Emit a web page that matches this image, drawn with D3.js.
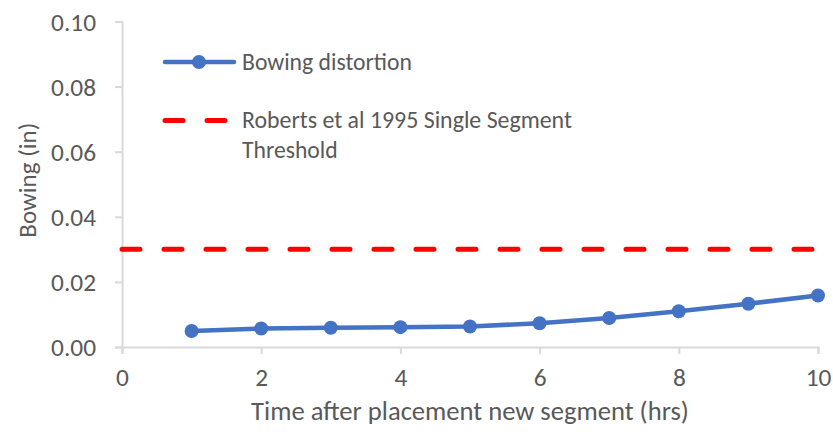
<!DOCTYPE html>
<html>
<head>
<meta charset="utf-8">
<script src="https://cdn.jsdelivr.net/npm/d3@7"></script>
<style>
  html, body { margin: 0; padding: 0; background: #fff; }
  svg { display: block; }
  text { font-family: Carlito, Calibri, Lato, "Open Sans", sans-serif; fill: #595959; }
</style>
</head>
<body>
<svg id="chart" width="833" height="434"></svg>
<script>
// Bowing distortion measured after placing a new segment
const hours = [1, 2, 3, 4, 5, 6, 7, 8, 9, 10];
const bowing = [0.0049, 0.0057, 0.0059, 0.0061, 0.0063, 0.0073, 0.0089, 0.0110, 0.0133, 0.0158];
// Roberts et al (1995) single segment threshold
const threshold = 0.03;
const xTicks = [0, 2, 4, 6, 8, 10];
const yTicks = [0, 0.02, 0.04, 0.06, 0.08, 0.10];
const seriesNames = ["Bowing distortion", "Roberts et al 1995 Single Segment", "Threshold"];

const svg = d3.select("#chart");
const x = d3.scaleLinear().domain([0, 10]).range([122, 818]);
const y = d3.scaleLinear().domain([0, 0.1]).range([347, 21.5]);

const axisColor = "#d9d9d9";

// Scale a text's font size so that it spans the given width
function fitWidth(sel, width, base) {
  sel.style("font-size", base + "px");
  const w = sel.node().getComputedTextLength();
  sel.style("font-size", (base * width / w).toFixed(2) + "px");
  return base * width / w;
}

// Y axis
const yAxis = svg.append("g")
  .attr("transform", `translate(${x(0)},0)`)
  .call(d3.axisLeft(y).tickValues(yTicks).tickFormat(d3.format(".2f")).tickSize(7).tickPadding(19));
// X axis
const xAxis = svg.append("g")
  .attr("transform", `translate(0,${y(0)})`)
  .call(d3.axisBottom(x).tickValues(xTicks).tickFormat(d3.format("d")).tickSize(7).tickPadding(14));

[yAxis, xAxis].forEach(g => {
  g.select(".domain").attr("stroke", axisColor).attr("stroke-width", 2);
  g.selectAll(".tick line").attr("stroke", axisColor).attr("stroke-width", 2);
  g.selectAll(".tick text").attr("fill", "#595959")
    .style("font-family", "Carlito, Calibri, Lato, sans-serif");
});
// Tick labels: "0.10" spans about 45px
const tickSize = fitWidth(yAxis.selectAll(".tick text").filter(d => d === 0.1), 45, 24);
yAxis.selectAll(".tick text").style("font-size", tickSize + "px").attr("dy", "0.35em");
xAxis.selectAll(".tick text").style("font-size", tickSize + "px").attr("dy", "0.72em");

// Threshold line
svg.append("line")
  .attr("x1", x(0)).attr("x2", x(10))
  .attr("y1", y(threshold)).attr("y2", y(threshold))
  .attr("stroke", "#ff0000").attr("stroke-width", 5)
  .attr("stroke-linecap", "round")
  .attr("stroke-dasharray", "18 24");

// Bowing series
const line = d3.line().x((d, i) => x(hours[i])).y(d => y(d));
svg.append("path")
  .datum(bowing)
  .attr("d", line)
  .attr("fill", "none")
  .attr("stroke", "#4472c4")
  .attr("stroke-width", 4.5)
  .attr("stroke-linejoin", "round");
svg.selectAll("circle.pt")
  .data(bowing)
  .enter().append("circle")
  .attr("class", "pt")
  .attr("cx", (d, i) => x(hours[i]))
  .attr("cy", d => y(d))
  .attr("r", 7)
  .attr("fill", "#4472c4");

// Axis titles
const xTitle = svg.append("text")
  .attr("x", (x(0) + x(10)) / 2).attr("y", 420)
  .attr("text-anchor", "middle")
  .text("Time after placement new segment (hrs)");
fitWidth(xTitle, 438, 22);
const yTitle = svg.append("text")
  .attr("transform", `translate(36,${(y(0) + y(0.1)) / 2 - 4}) rotate(-90)`)
  .attr("text-anchor", "middle")
  .text("Bowing (in)");
fitWidth(yTitle, 115, 22);

// Legend
const leg = svg.append("g");
leg.append("line")
  .attr("x1", 165).attr("x2", 234).attr("y1", 62).attr("y2", 62)
  .attr("stroke", "#4472c4").attr("stroke-width", 4.5).attr("stroke-linecap", "round");
leg.append("circle").attr("cx", 199).attr("cy", 62).attr("r", 7).attr("fill", "#4472c4");
const l1 = leg.append("text").attr("x", 242).attr("y", 70).text(seriesNames[0]);
const legSize = fitWidth(l1, 170, 21);

leg.append("line")
  .attr("x1", 165).attr("x2", 234).attr("y1", 120.5).attr("y2", 120.5)
  .attr("stroke", "#ff0000").attr("stroke-width", 5).attr("stroke-linecap", "round")
  .attr("stroke-dasharray", "18 24");
const l2 = leg.append("text").attr("x", 242).attr("y", 128).text(seriesNames[1]);
fitWidth(l2, 330, 21);
leg.append("text").attr("x", 242).attr("y", 158).style("font-size", legSize + "px").text(seriesNames[2]);
</script>
</body>
</html>
